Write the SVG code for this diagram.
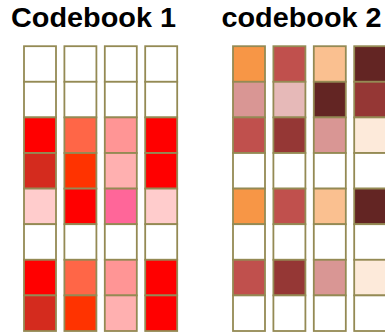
<svg xmlns="http://www.w3.org/2000/svg" width="385" height="332" viewBox="0 0 385 332">
<style>
.t{font-family:"Liberation Sans",Arial,sans-serif;font-weight:bold;font-size:28px;fill:#000}
rect.c{stroke:#948A54;stroke-width:1.8;width:32px;height:35.6px}
.w{fill:#FFFFFF}
</style>
<rect width="385" height="332" fill="#FFFFFF"/>
<text class="t" x="11" y="27" textLength="165" lengthAdjust="spacingAndGlyphs">Codebook 1</text>
<text class="t" x="221.5" y="27" textLength="160" lengthAdjust="spacingAndGlyphs">codebook 2</text>
<g id="cb1-col1">
<rect class="c w" x="24" y="46.2" width="32" height="35.6"/>
<rect class="c w" x="24" y="81.8" width="32" height="35.6"/>
<rect class="c" x="24" y="117.4" width="32" height="35.6" fill="#FF0000"/>
<rect class="c" x="24" y="153" width="32" height="35.6" fill="#D42B1E"/>
<rect class="c" x="24" y="188.6" width="32" height="35.6" fill="#FFCCCC"/>
<rect class="c w" x="24" y="224.2" width="32" height="35.6"/>
<rect class="c" x="24" y="259.8" width="32" height="35.6" fill="#FF0000"/>
<rect class="c" x="24" y="295.4" width="32" height="35.6" fill="#D42B1E"/>
</g>
<g id="cb1-col2">
<rect class="c w" x="64.4" y="46.2" width="32" height="35.6"/>
<rect class="c w" x="64.4" y="81.8" width="32" height="35.6"/>
<rect class="c" x="64.4" y="117.4" width="32" height="35.6" fill="#FF6647"/>
<rect class="c" x="64.4" y="153" width="32" height="35.6" fill="#FF3300"/>
<rect class="c" x="64.4" y="188.6" width="32" height="35.6" fill="#FF0000"/>
<rect class="c w" x="64.4" y="224.2" width="32" height="35.6"/>
<rect class="c" x="64.4" y="259.8" width="32" height="35.6" fill="#FF6647"/>
<rect class="c" x="64.4" y="295.4" width="32" height="35.6" fill="#FF3300"/>
</g>
<g id="cb1-col3">
<rect class="c w" x="104.8" y="46.2" width="32" height="35.6"/>
<rect class="c w" x="104.8" y="81.8" width="32" height="35.6"/>
<rect class="c" x="104.8" y="117.4" width="32" height="35.6" fill="#FF9595"/>
<rect class="c" x="104.8" y="153" width="32" height="35.6" fill="#FFB0B0"/>
<rect class="c" x="104.8" y="188.6" width="32" height="35.6" fill="#FF6699"/>
<rect class="c w" x="104.8" y="224.2" width="32" height="35.6"/>
<rect class="c" x="104.8" y="259.8" width="32" height="35.6" fill="#FF9595"/>
<rect class="c" x="104.8" y="295.4" width="32" height="35.6" fill="#FFB0B0"/>
</g>
<g id="cb1-col4">
<rect class="c w" x="145.2" y="46.2" width="32" height="35.6"/>
<rect class="c w" x="145.2" y="81.8" width="32" height="35.6"/>
<rect class="c" x="145.2" y="117.4" width="32" height="35.6" fill="#FF0000"/>
<rect class="c" x="145.2" y="153" width="32" height="35.6" fill="#FF0000"/>
<rect class="c" x="145.2" y="188.6" width="32" height="35.6" fill="#FFCCCC"/>
<rect class="c w" x="145.2" y="224.2" width="32" height="35.6"/>
<rect class="c" x="145.2" y="259.8" width="32" height="35.6" fill="#FF0000"/>
<rect class="c" x="145.2" y="295.4" width="32" height="35.6" fill="#FF0000"/>
</g>
<g id="cb2-col1">
<rect class="c" x="233" y="46.2" width="32" height="35.6" fill="#F79646"/>
<rect class="c" x="233" y="81.8" width="32" height="35.6" fill="#D99694"/>
<rect class="c" x="233" y="117.4" width="32" height="35.6" fill="#C0504D"/>
<rect class="c w" x="233" y="153" width="32" height="35.6"/>
<rect class="c" x="233" y="188.6" width="32" height="35.6" fill="#F79646"/>
<rect class="c w" x="233" y="224.2" width="32" height="35.6"/>
<rect class="c" x="233" y="259.8" width="32" height="35.6" fill="#C0504D"/>
<rect class="c w" x="233" y="295.4" width="32" height="35.6"/>
</g>
<g id="cb2-col2">
<rect class="c" x="273.4" y="46.2" width="32" height="35.6" fill="#C0504D"/>
<rect class="c" x="273.4" y="81.8" width="32" height="35.6" fill="#E6B9B8"/>
<rect class="c" x="273.4" y="117.4" width="32" height="35.6" fill="#953735"/>
<rect class="c w" x="273.4" y="153" width="32" height="35.6"/>
<rect class="c" x="273.4" y="188.6" width="32" height="35.6" fill="#C0504D"/>
<rect class="c w" x="273.4" y="224.2" width="32" height="35.6"/>
<rect class="c" x="273.4" y="259.8" width="32" height="35.6" fill="#953735"/>
<rect class="c w" x="273.4" y="295.4" width="32" height="35.6"/>
</g>
<g id="cb2-col3">
<rect class="c" x="313.8" y="46.2" width="32" height="35.6" fill="#FAC090"/>
<rect class="c" x="313.8" y="81.8" width="32" height="35.6" fill="#632523"/>
<rect class="c" x="313.8" y="117.4" width="32" height="35.6" fill="#D99694"/>
<rect class="c w" x="313.8" y="153" width="32" height="35.6"/>
<rect class="c" x="313.8" y="188.6" width="32" height="35.6" fill="#FAC090"/>
<rect class="c w" x="313.8" y="224.2" width="32" height="35.6"/>
<rect class="c" x="313.8" y="259.8" width="32" height="35.6" fill="#D99694"/>
<rect class="c w" x="313.8" y="295.4" width="32" height="35.6"/>
</g>
<g id="cb2-col4">
<rect class="c" x="354.2" y="46.2" width="32" height="35.6" fill="#632523"/>
<rect class="c" x="354.2" y="81.8" width="32" height="35.6" fill="#953735"/>
<rect class="c" x="354.2" y="117.4" width="32" height="35.6" fill="#FDEADA"/>
<rect class="c w" x="354.2" y="153" width="32" height="35.6"/>
<rect class="c" x="354.2" y="188.6" width="32" height="35.6" fill="#632523"/>
<rect class="c w" x="354.2" y="224.2" width="32" height="35.6"/>
<rect class="c" x="354.2" y="259.8" width="32" height="35.6" fill="#FDEADA"/>
<rect class="c w" x="354.2" y="295.4" width="32" height="35.6"/>
</g>
<g id="connectors"/>
</svg>
